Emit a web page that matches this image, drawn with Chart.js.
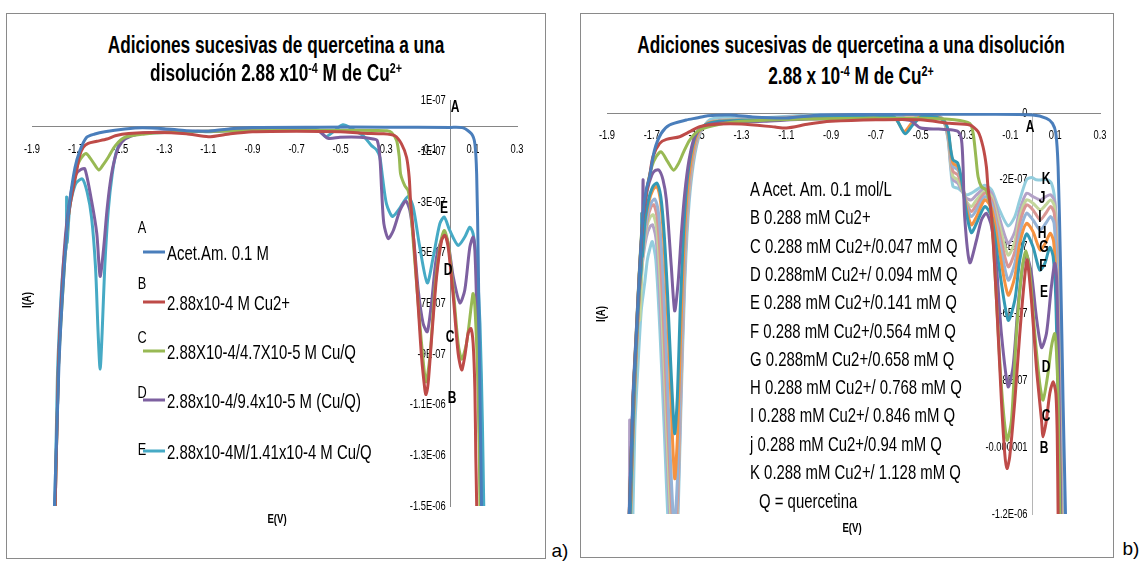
<!DOCTYPE html>
<html>
<head>
<meta charset="utf-8">
<script src="https://cdn.jsdelivr.net/npm/chart.js@4.4.0/dist/chart.umd.min.js"></script>
<style>
  body { margin: 0; background: #fff; width: 1146px; height: 562px; position: relative; overflow: hidden;
         font-family: 'Liberation Sans', Arial, sans-serif; color: #000; }
  .panel { position: absolute; border: 1px solid #8a8a8a; box-sizing: border-box; }
  canvas { position: absolute; }
  .c, .l { position: absolute; white-space: nowrap; line-height: 1; }
  .c { transform: translate(-50%, -50%) scaleX(var(--sx, 1)); }
  .l { transform-origin: left center; transform: translate(0, -50%) scaleX(var(--sx, 1)); }
  .title { font-weight: bold; font-size: 23px; --sx: 0.75; }
  .leg { font-size: 21px; --sx: 0.71; }
  .let { font-size: 17px; --sx: 0.75; }
  .tag { font-weight: bold; font-size: 16px; --sx: 0.75; }
  .axt { font-weight: bold; font-size: 12px; }
  .rot { transform: translate(-50%, -50%) rotate(-90deg) scaleX(0.8); }
  sup { font-size: 0.62em; vertical-align: 0.55em; line-height: 0; }
</style>
</head>
<body>
<div class="panel" style="left:6px;top:13px;width:540px;height:546px;"></div>
<div class="panel" style="left:580px;top:13px;width:534px;height:545px;"></div>
<canvas id="leftChart" width="528" height="440" style="left:7px;top:85px;"></canvas>
<canvas id="rightChart" width="528" height="440" style="left:585px;top:95px;"></canvas>
<div id="overlay"></div>
<script>
// axis ticks (I values in units of 1E-07 A)
const xTicks = [-1.9, -1.7, -1.5, -1.3, -1.1, -0.9, -0.7, -0.5, -0.3, -0.1, 0.1, 0.3];
const xLabels = ['-1.9', '-1.7', '-1.5', '-1.3', '-1.1', '-0.9', '-0.7', '-0.5', '-0.3', '-0.1', '0.1', '0.3'];
const leftYTicks = [1, -1, -3, -5, -7, -9, -11, -13, -15];
const leftYLabels = ['1E-07', '-1E-07', '-3E-07', '-5E-07', '-7E-07', '-9E-07', '-1.1E-06', '-1.3E-06', '-1.5E-06'];
const rightYTicks = [0, -2, -4, -6, -8, -10, -12];
const rightYLabels = ['0', '-2E-07', '-4E-07', '-6E-07', '-8E-07', '-0.000001', '-1.2E-06'];

// legend texts
const leftLetters = ['A', 'B', 'C', 'D', 'E'];
const leftNames = ['Acet.Am. 0.1 M', '2.88x10-4 M Cu2+', '2.88X10-4/4.7X10-5 M Cu/Q',
  '2.88x10-4/9.4x10-5 M (Cu/Q)', '2.88x10-4M/1.41x10-4 M Cu/Q'];
const rightNames = ['A Acet. Am. 0.1 mol/L', 'B 0.288 mM Cu2+', 'C 0.288 mM Cu2+/0.047 mM Q',
  'D 0.288mM Cu2+/ 0.094 mM Q', 'E 0.288 mM Cu2+/0.141 mM Q', 'F 0.288 mM Cu2+/0.564 mM Q',
  'G 0.288mM Cu2+/0.658 mM Q', 'H 0.288 mM Cu2+/ 0.768 mM Q', 'I 0.288 mM Cu2+/ 0.846 mM Q',
  'j 0.288 mM Cu2+/0.94 mM Q', 'K 0.288 mM Cu2+/ 1.128 mM Q'];

// ---- left panel curves: [E (V), I (1E-07 A)] ----
const leftA = [[-1.805,-17],[-1.778,-9.5],[-1.763,-6.87],[-1.743,-4.24],[-1.728,-2.93],[-1.705,-1.64],[-1.683,-0.97],
  [-1.652,-0.44],[-1.615,-0.31],[-1.57,-0.22],[-1.478,-0.11],[-1.4,-0.06],[-1.3,-0.1],[-1.2,-0.18],[-1.1,-0.2],[-1.0,-0.1],
  [-0.9,-0.05],[-0.6,-0.04],[-0.3,-0.04],[0.0,-0.05],[0.056,-0.07],[0.094,-0.31],[0.109,-0.7],[0.117,-1.89],[0.124,-5.17],
  [0.1315,-10.4],[0.139,-14.9],[0.145,-18]];
const leftB = [[-1.8,-17],[-1.78,-9.5],[-1.765,-6.9],[-1.745,-4.3],[-1.725,-3.0],[-1.7,-1.9],[-1.685,-1.2],[-1.668,-0.84],
  [-1.645,-0.68],[-1.606,-0.6],[-1.56,-0.51],[-1.522,-0.38],[-1.462,-0.29],[-1.342,-0.25],[-1.2,-0.3],[-1.1,-0.42],[-1.0,-0.3],
  [-0.9,-0.22],[-0.7,-0.2],[-0.5,-0.22],[-0.4,-0.28],[-0.307,-0.3],[-0.254,-0.38],[-0.224,-0.7],[-0.201,-1.23],[-0.189,-2.02],
  [-0.183,-2.94],[-0.174,-3.85],[-0.163,-5.17],[-0.148,-7.14],[-0.133,-9.11],[-0.118,-10.4],[-0.113,-10.6],[-0.103,-10.15],
  [-0.088,-8.45],[-0.065,-5.96],[-0.042,-4.51],[-0.027,-4.31],[-0.012,-4.78],[0.011,-6.74],[0.033,-8.97],[0.049,-9.63],
  [0.063,-9.1],[0.078,-8.19],[0.091,-7.99],[0.101,-8.58],[0.109,-10.4],[0.113,-13.0],[0.117,-14.9],[0.12,-18]];
const leftC = [[-1.8,-17],[-1.78,-9.6],[-1.76,-6.5],[-1.74,-4.0],[-1.72,-2.6],[-1.7,-1.7],[-1.68,-1.3],[-1.655,-1.08],
  [-1.625,-1.4],[-1.597,-1.73],[-1.575,-1.5],[-1.554,-1.23],[-1.522,-0.77],[-1.478,-0.44],[-1.388,-0.31],[-1.3,-0.25],
  [-1.1,-0.2],[-0.9,-0.18],[-0.7,-0.17],[-0.5,-0.16],[-0.35,-0.17],[-0.29,-0.18],[-0.269,-0.25],[-0.246,-0.57],[-0.234,-1.23],
  [-0.228,-1.89],[-0.209,-2.35],[-0.194,-2.54],[-0.183,-3.2],[-0.171,-4.51],[-0.153,-6.48],[-0.133,-8.58],[-0.113,-10.1],
  [-0.095,-9.1],[-0.073,-6.48],[-0.05,-4.78],[-0.03,-4.12],[-0.012,-4.64],[0.011,-6.48],[0.033,-8.58],[0.049,-9.21],
  [0.071,-8.58],[0.094,-7.0],[0.101,-6.61],[0.109,-7.14],[0.119,-9.11],[0.127,-11.7],[0.132,-14.9],[0.136,-18]];
const leftD = [[-1.8,-17],[-1.78,-9.5],[-1.765,-6.5],[-1.75,-4.5],[-1.735,-3.3],[-1.72,-2.5],[-1.7,-1.9],[-1.68,-1.72],
  [-1.66,-1.69],[-1.63,-2.94],[-1.606,-4.25],[-1.591,-5.93],[-1.576,-4.9],[-1.56,-3.33],[-1.546,-2.28],[-1.53,-1.49],
  [-1.508,-0.84],[-1.478,-0.51],[-1.418,-0.31],[-1.3,-0.22],[-1.1,-0.2],[-0.9,-0.17],[-0.7,-0.17],[-0.6,-0.2],[-0.557,-0.48],
  [-0.503,-0.44],[-0.413,-0.44],[-0.352,-0.51],[-0.334,-0.57],[-0.322,-1.23],[-0.314,-2.54],[-0.304,-3.85],[-0.284,-4.44],
  [-0.261,-4.12],[-0.231,-3.33],[-0.204,-2.96],[-0.186,-3.33],[-0.168,-4.51],[-0.148,-6.48],[-0.126,-7.79],[-0.107,-8.12],
  [-0.088,-7.0],[-0.065,-5.17],[-0.03,-4.25],[-0.012,-4.64],[0.011,-5.96],[0.041,-6.98],[0.063,-6.48],[0.086,-4.78],
  [0.101,-4.38],[0.109,-4.91],[0.119,-7.79],[0.128,-11.7],[0.135,-14.9],[0.14,-18]];
const leftE = [[-1.8,-17],[-1.785,-10],[-1.77,-7],[-1.755,-5.2],[-1.745,-4.8],[-1.743,-2.8],[-1.741,-4.6],[-1.73,-3.3],
  [-1.72,-2.8],[-1.7,-2.25],[-1.672,-2.08],[-1.65,-2.6],[-1.63,-3.59],[-1.612,-5.56],[-1.6,-8.19],[-1.591,-9.6],[-1.582,-8.19],
  [-1.57,-5.56],[-1.554,-3.33],[-1.536,-1.89],[-1.516,-0.97],[-1.486,-0.51],[-1.433,-0.31],[-1.3,-0.25],[-1.15,-0.2],
  [-1.1,-0.22],[-1.0,-0.15],[-0.9,-0.1],[-0.7,-0.1],[-0.6,-0.15],[-0.567,-0.42],[-0.53,-0.2],[-0.49,0.05],[-0.45,-0.1],
  [-0.398,-0.38],[-0.36,-0.77],[-0.337,-0.94],[-0.322,-1.23],[-0.31,-2.02],[-0.292,-3.07],[-0.265,-3.57],[-0.239,-3.33],
  [-0.194,-2.78],[-0.171,-3.2],[-0.141,-4.78],[-0.107,-6.19],[-0.08,-5.17],[-0.05,-3.85],[-0.03,-3.59],[-0.005,-4.12],
  [0.033,-4.71],[0.063,-4.38],[0.086,-3.99],[0.101,-4.25],[0.117,-5.43],[0.132,-7.79],[0.143,-11.7],[0.149,-14.9],[0.155,-18]];

// ---- right panel curves ----
const rightA = [[-1.81,-14],[-1.784,-8.6],[-1.769,-6.6],[-1.754,-4.6],[-1.74,-3.1],[-1.725,-2.3],[-1.71,-1.91],[-1.688,-1.11],
  [-1.658,-0.61],[-1.621,-0.36],[-1.546,-0.21],[-1.5,-0.15],[-1.45,-0.08],[-1.35,-0.06],[-1.25,-0.12],[-1.1,-0.15],
  [-0.95,-0.06],[-0.6,-0.04],[-0.2,-0.04],[0.0,-0.06],[0.061,-0.16],[0.088,-0.31],[0.103,-0.61],[0.113,-1.61],[0.124,-4.6],
  [0.135,-8.6],[0.146,-12],[0.152,-14]];
const rightB = [[-1.81,-14],[-1.784,-8.6],[-1.769,-6.6],[-1.754,-4.6],[-1.74,-3.2],[-1.725,-2.4],[-1.71,-1.9],[-1.695,-1.31],
  [-1.665,-0.91],[-1.635,-0.79],[-1.576,-0.71],[-1.531,-0.56],[-1.487,-0.41],[-1.397,-0.33],[-1.3,-0.33],[-1.15,-0.42],
  [-1.1,-0.45],[-1.0,-0.33],[-0.9,-0.25],[-0.7,-0.2],[-0.5,-0.2],[-0.371,-0.31],[-0.281,-0.36],[-0.244,-0.56],[-0.222,-1.01],
  [-0.207,-1.61],[-0.2,-2.21],[-0.184,-3.1],[-0.162,-5.6],[-0.14,-8.6],[-0.125,-10.19],[-0.115,-10.64],[-0.103,-10.29],
  [-0.08,-8.6],[-0.058,-6.6],[-0.036,-4.9],[-0.025,-4.4],[-0.006,-5.6],[0.016,-7.6],[0.039,-9.19],[0.046,-9.69],[0.061,-9.19],
  [0.076,-8.39],[0.091,-8.04],[0.103,-8.39],[0.109,-9.59],[0.113,-12],[0.116,-14]];
const rightC = [[-1.81,-14],[-1.784,-8.6],[-1.769,-6.5],[-1.754,-4.5],[-1.74,-3.1],[-1.72,-2.2],[-1.7,-1.6],[-1.68,-1.3],
  [-1.658,-1.16],[-1.63,-1.45],[-1.603,-1.71],[-1.58,-1.5],[-1.561,-1.21],[-1.531,-0.81],[-1.487,-0.51],[-1.412,-0.36],
  [-1.3,-0.25],[-1.0,-0.18],[-0.7,-0.16],[-0.5,-0.16],[-0.35,-0.2],[-0.281,-0.31],[-0.266,-0.61],[-0.254,-1.31],[-0.244,-1.91],
  [-0.229,-2.21],[-0.207,-2.31],[-0.184,-3.1],[-0.162,-5.6],[-0.14,-8.19],[-0.115,-9.79],[-0.095,-9.19],[-0.073,-6.6],
  [-0.05,-4.8],[-0.031,-4.12],[-0.013,-4.8],[0.009,-6.6],[0.031,-8.09],[0.046,-8.59],[0.068,-7.79],[0.083,-7.0],[0.098,-6.6],
  [0.106,-7.19],[0.113,-8.59],[0.121,-12],[0.125,-14]];
const rightD = [[-1.81,-14],[-1.785,-8.6],[-1.77,-6.6],[-1.755,-4.7],[-1.742,-3.3],[-1.739,-2.0],[-1.736,-3.0],[-1.72,-2.3],
  [-1.7,-1.85],[-1.685,-1.72],[-1.668,-1.71],[-1.65,-2.0],[-1.635,-2.6],[-1.613,-4.6],[-1.598,-5.92],[-1.583,-5.1],
  [-1.568,-3.6],[-1.553,-2.4],[-1.534,-1.41],[-1.509,-0.71],[-1.472,-0.41],[-1.4,-0.3],[-1.2,-0.25],[-1.0,-0.18],[-0.7,-0.18],
  [-0.55,-0.22],[-0.5,-0.45],[-0.42,-0.48],[-0.371,-0.5],[-0.333,-0.56],[-0.318,-0.81],[-0.311,-1.61],[-0.304,-3.1],
  [-0.281,-4.48],[-0.251,-3.8],[-0.229,-3.2],[-0.207,-3.0],[-0.184,-3.4],[-0.162,-4.6],[-0.14,-6.6],[-0.11,-8.19],
  [-0.088,-7.6],[-0.066,-5.8],[-0.043,-4.5],[-0.028,-4.25],[-0.006,-4.8],[0.016,-6.1],[0.039,-7.02],[0.061,-6.6],[0.083,-5.2],
  [0.098,-4.5],[0.106,-4.9],[0.115,-7.6],[0.124,-12],[0.128,-14]];
const rightE = [[-1.805,-14],[-1.785,-9.5],[-1.77,-7.0],[-1.755,-5.2],[-1.747,-4.6],[-1.745,-3.0],[-1.743,-4.3],[-1.73,-3.2],
  [-1.715,-2.6],[-1.695,-2.2],[-1.677,-2.1],[-1.66,-2.5],[-1.645,-3.6],[-1.63,-5.4],[-1.615,-7.6],[-1.598,-9.59],[-1.586,-8.5],
  [-1.574,-6.0],[-1.56,-3.8],[-1.545,-2.2],[-1.525,-1.2],[-1.5,-0.6],[-1.46,-0.35],[-1.4,-0.25],[-1.3,-0.22],[-1.15,-0.2],
  [-1.0,-0.12],[-0.8,-0.08],[-0.62,-0.12],[-0.57,-0.62],[-0.535,-0.35],[-0.49,-0.08],[-0.44,-0.12],[-0.4,-0.21],[-0.378,-0.5],
  [-0.367,-1.05],[-0.356,-1.4],[-0.335,-1.5],[-0.315,-2.1],[-0.296,-3.0],[-0.274,-3.58],[-0.251,-3.3],[-0.214,-2.8],
  [-0.184,-3.1],[-0.155,-4.4],[-0.11,-6.2],[-0.08,-5.6],[-0.058,-4.4],[-0.028,-3.62],[0.001,-4.0],[0.031,-4.7],[0.054,-4.5],
  [0.076,-4.02],[0.091,-4.3],[0.103,-5.6],[0.113,-8.6],[0.124,-12],[0.128,-14]];
const rightF = [[-1.803,-14],[-1.783,-9.5],[-1.768,-7.0],[-1.752,-5.0],[-1.735,-3.5],[-1.715,-2.7],[-1.695,-2.3],[-1.677,-2.2],
  [-1.66,-2.7],[-1.645,-4.0],[-1.63,-6.0],[-1.615,-8.5],[-1.598,-10.94],[-1.585,-9.6],[-1.572,-6.8],[-1.558,-4.2],[-1.543,-2.5],
  [-1.522,-1.3],[-1.495,-0.6],[-1.45,-0.3],[-1.4,-0.25],[-1.3,-0.22],[-1.15,-0.2],[-1.0,-0.1],[-0.8,-0.07],[-0.62,-0.12],
  [-0.575,-0.55],[-0.54,-0.3],[-0.5,-0.1],[-0.45,-0.1],[-0.4,-0.2],[-0.378,-0.55],[-0.367,-1.1],[-0.356,-1.5],[-0.335,-1.6],
  [-0.315,-2.1],[-0.296,-2.85],[-0.274,-3.35],[-0.251,-3.1],[-0.214,-2.6],[-0.184,-2.85],[-0.155,-3.9],[-0.11,-5.45],
  [-0.08,-4.9],[-0.058,-3.9],[-0.028,-3.3],[0.001,-3.55],[0.033,-4.1],[0.056,-3.9],[0.078,-3.6],[0.093,-3.85],[0.105,-5.2],
  [0.115,-8.4],[0.126,-12],[0.13,-14]];
const rightG = [[-1.807,-14],[-1.787,-9.6],[-1.771,-7.2],[-1.755,-5.3],[-1.737,-3.9],[-1.718,-3.0],[-1.7,-2.65],[-1.686,-2.58],
  [-1.67,-3.0],[-1.652,-4.6],[-1.635,-7.2],[-1.618,-10.2],[-1.6,-12.4],[-1.586,-11.0],[-1.572,-7.8],[-1.557,-4.6],[-1.541,-2.6],
  [-1.52,-1.3],[-1.49,-0.6],[-1.44,-0.28],[-1.3,-0.2],[-1.15,-0.18],[-1.0,-0.1],[-0.8,-0.06],[-0.6,-0.08],[-0.55,-0.2],
  [-0.5,-0.08],[-0.44,-0.1],[-0.4,-0.2],[-0.378,-0.6],[-0.367,-1.2],[-0.356,-1.6],[-0.335,-1.7],[-0.315,-2.1],[-0.296,-2.75],
  [-0.274,-3.1],[-0.251,-2.9],[-0.214,-2.5],[-0.184,-2.7],[-0.155,-3.6],[-0.11,-5.0],[-0.08,-4.5],[-0.058,-3.6],[-0.028,-3.0],
  [0.001,-3.2],[0.033,-3.5],[0.058,-3.3],[0.08,-3.1],[0.095,-3.3],[0.107,-4.8],[0.117,-8.2],[0.128,-12],[0.132,-14]];
const rightH = [[-1.808,-14],[-1.789,-9.8],[-1.773,-7.4],[-1.757,-5.5],[-1.739,-4.1],[-1.72,-3.2],[-1.703,-2.8],[-1.69,-2.75],
  [-1.673,-3.3],[-1.655,-5.2],[-1.637,-8.0],[-1.618,-11.0],[-1.599,-13.0],[-1.585,-11.4],[-1.571,-8.0],[-1.556,-4.8],
  [-1.54,-2.7],[-1.518,-1.35],[-1.488,-0.6],[-1.44,-0.28],[-1.3,-0.2],[-1.15,-0.17],[-1.0,-0.1],[-0.8,-0.06],[-0.6,-0.06],
  [-0.5,-0.06],[-0.44,-0.08],[-0.4,-0.2],[-0.378,-0.65],[-0.367,-1.3],[-0.356,-1.75],[-0.335,-1.85],[-0.315,-2.2],
  [-0.296,-2.7],[-0.274,-2.95],[-0.251,-2.75],[-0.214,-2.4],[-0.184,-2.6],[-0.155,-3.4],[-0.11,-4.6],[-0.08,-4.15],
  [-0.058,-3.3],[-0.028,-2.75],[0.001,-2.9],[0.033,-3.2],[0.058,-3.0],[0.08,-2.8],[0.096,-3.0],[0.108,-4.5],[0.118,-8.0],
  [0.129,-12],[0.133,-14]];
const rightI = [[-1.809,-14],[-1.79,-10.0],[-1.775,-7.6],[-1.758,-5.7],[-1.756,-4.8],[-1.754,-6.2],[-1.74,-4.3],[-1.722,-3.4],
  [-1.706,-3.1],[-1.693,-3.05],[-1.676,-3.6],[-1.658,-5.6],[-1.64,-8.4],[-1.62,-11.5],[-1.6,-13.5],[-1.586,-11.8],[-1.571,-8.2],
  [-1.556,-5.0],[-1.54,-2.8],[-1.517,-1.4],[-1.487,-0.6],[-1.44,-0.27],[-1.3,-0.19],[-1.15,-0.16],[-1.0,-0.09],[-0.8,-0.05],
  [-0.6,-0.05],[-0.5,-0.05],[-0.44,-0.07],[-0.4,-0.2],[-0.378,-0.7],[-0.367,-1.4],[-0.356,-1.9],[-0.335,-2.0],[-0.315,-2.3],
  [-0.296,-2.65],[-0.274,-2.8],[-0.251,-2.6],[-0.214,-2.35],[-0.184,-2.5],[-0.155,-3.2],[-0.11,-4.25],[-0.08,-3.85],
  [-0.058,-3.1],[-0.028,-2.6],[0.001,-2.7],[0.033,-2.9],[0.058,-2.75],[0.08,-2.6],[0.097,-2.8],[0.109,-4.3],[0.119,-7.8],
  [0.13,-12],[0.134,-14]];
const rightJ = [[-1.8,-14],[-1.799,-9.2],[-1.79,-9.9],[-1.776,-7.8],[-1.76,-5.9],[-1.742,-4.5],[-1.724,-3.7],[-1.708,-3.4],
  [-1.696,-3.35],[-1.679,-3.9],[-1.661,-6.0],[-1.642,-8.8],[-1.621,-12.0],[-1.6,-14.0],[-1.586,-12.2],[-1.57,-8.4],
  [-1.555,-5.1],[-1.539,-2.9],[-1.516,-1.45],[-1.486,-0.6],[-1.44,-0.26],[-1.3,-0.18],[-1.15,-0.15],[-1.0,-0.08],[-0.8,-0.04],
  [-0.6,-0.04],[-0.5,-0.04],[-0.44,-0.06],[-0.4,-0.2],[-0.378,-0.75],[-0.367,-1.5],[-0.356,-2.0],[-0.335,-2.1],[-0.315,-2.35],
  [-0.296,-2.55],[-0.274,-2.6],[-0.251,-2.45],[-0.214,-2.25],[-0.184,-2.4],[-0.155,-3.0],[-0.11,-3.9],[-0.08,-3.55],
  [-0.058,-2.9],[-0.028,-2.4],[0.001,-2.5],[0.033,-2.6],[0.058,-2.5],[0.08,-2.45],[0.098,-2.65],[0.11,-4.1],[0.12,-7.6],
  [0.131,-12],[0.135,-14]];
const rightK = [[-1.79,-14],[-1.776,-9.5],[-1.762,-7.6],[-1.747,-5.9],[-1.732,-5.1],[-1.72,-4.4],[-1.71,-4.1],[-1.698,-3.85],
  [-1.682,-4.4],[-1.664,-6.5],[-1.645,-9.4],[-1.624,-12.8],[-1.602,-15.0],[-1.587,-13.0],[-1.57,-8.8],[-1.554,-5.3],
  [-1.537,-3.0],[-1.514,-1.5],[-1.484,-0.6],[-1.44,-0.2],[-1.35,-0.12],[-1.2,-0.14],[-1.0,-0.06],[-0.8,-0.03],[-0.6,-0.03],
  [-0.5,-0.02],[-0.46,0],[-0.43,-0.05],[-0.4,-0.2],[-0.378,-0.8],[-0.367,-1.6],[-0.356,-2.2],[-0.335,-2.25],[-0.315,-2.35],
  [-0.296,-2.45],[-0.274,-2.4],[-0.251,-2.3],[-0.214,-2.16],[-0.184,-2.3],[-0.155,-2.8],[-0.11,-3.38],[-0.08,-3.1],
  [-0.058,-2.6],[-0.028,-2.0],[-0.005,-1.93],[0.016,-2.0],[0.04,-2.0],[0.061,-1.99],[0.083,-2.1],[0.098,-2.6],[0.113,-4.6],
  [0.124,-8.6],[0.133,-12],[0.137,-14]];

const leftColors = ['#4a7ebb', '#be4b48', '#98b954', '#7d60a0', '#46aac5'];
const rightColors = ['#4a7ebb', '#be4b48', '#98b954', '#7d60a0', '#3399b4', '#f59240',
  '#95b3d7', '#d99694', '#c3d69b', '#b3a2c7', '#93cddd'];

// the reference uses a narrow face; squeeze canvas text horizontally around its anchor
function narrowText(ctx, sx) {
  const fill = ctx.fillText;
  ctx.fillText = function (text, x, y, maxWidth) {
    this.save();
    this.translate(x, y);
    this.scale(sx, 1);
    fill.call(this, text, 0, 0);
    this.restore();
  };
}

function makeChart(id, series, colors, yTicks, yLabels, yMin, yMax, pad, yLineColor) {
  const ctx = document.getElementById(id).getContext('2d');
  narrowText(ctx, 0.72);
  return new Chart(ctx, {
    type: 'scatter',
    data: {
      datasets: series.map((s, i) => ({
        data: s.map(p => ({ x: p[0], y: p[1] })),
        showLine: true,
        borderColor: colors[i],
        borderWidth: 3,
        pointRadius: 0,
        tension: 0.25,
        fill: false
      }))
    },
    options: {
      responsive: false,
      animation: false,
      devicePixelRatio: 1,
      layout: { padding: pad },
      plugins: { legend: { display: false }, tooltip: { enabled: false } },
      scales: {
        x: {
          type: 'linear', min: -1.9, max: 0.3, position: { y: 0 },
          afterBuildTicks: axis => { axis.ticks = xTicks.map(v => ({ value: v })); },
          grid: { drawOnChartArea: false, drawTicks: true, tickLength: 13, tickColor: 'rgba(0,0,0,0)' },
          border: { color: '#868686', width: 1 },
          ticks: { autoSkip: false, maxRotation: 0, padding: 2, color: '#000',
                   font: { family: "'Liberation Sans', Arial, sans-serif", size: 13 },
                   callback: (v, i) => xLabels[i] }
        },
        y: {
          type: 'linear', min: yMin, max: yMax, position: { x: 0 },
          afterBuildTicks: axis => { axis.ticks = yTicks.map(v => ({ value: v })); },
          grid: { drawOnChartArea: false, drawTicks: false },
          border: { color: yLineColor, width: 1 },
          ticks: { autoSkip: false, padding: 8, color: '#000',
                   font: { family: "'Liberation Sans', Arial, sans-serif", size: 13 },
                   callback: (v, i) => yLabels[i] + '\u00a0\u00a0' }
        }
      }
    }
  });
}

makeChart('leftChart', [leftA, leftB, leftC, leftD, leftE], leftColors, leftYTicks, leftYLabels, -15, 1,
  { left: 25, right: 18, top: 15, bottom: 19 }, '#8a8a8a');
makeChart('rightChart', [rightA, rightB, rightC, rightD, rightE, rightF, rightG, rightH, rightI, rightJ, rightK],
  rightColors, rightYTicks, rightYLabels, -12, 0, { left: 22, right: 13, top: 18, bottom: 21 }, '#b5b5b5');

// text overlay: titles, legends, curve tags
const overlay = document.getElementById('overlay');
function put(cls, x, y, html, extra) {
  const d = document.createElement('div');
  d.className = cls;
  d.style.left = x + 'px';
  d.style.top = y + 'px';
  if (extra) d.style.cssText += extra;
  d.innerHTML = html;
  overlay.appendChild(d);
  return d;
}

put('c title', 276, 45, 'Adiciones sucesivas de quercetina a una');
put('c title', 276, 73, 'disolución 2.88 x10<sup>-4</sup> M de Cu<sup>2+</sup>');
put('c title', 851, 45, 'Adiciones sucesivas de quercetina a una disolución');
put('c title', 851, 76, '2.88 x 10<sup>-4</sup> M de Cu<sup>2+</sup>');

const leftLetterY = [227, 283, 337, 392, 449];
const leftLineY = [252, 302, 351, 400, 451];
leftNames.forEach((name, i) => {
  put('c let', 142, leftLetterY[i], leftLetters[i]);
  put('l', 143, leftLineY[i], '', 'width:22px;height:3px;background:' + leftColors[i] + ';');
  put('l leg', 167, leftLineY[i], name);
});

rightNames.forEach((name, i) => put('l leg', 750, 188 + i * 28.3, name));
put('l leg', 759, 500, 'Q = quercetina');

// curve tags
[['A', 455, 107], ['E', 444, 208], ['D', 448, 270], ['C', 450, 337], ['B', 452, 398]]
  .forEach(t => put('c tag', t[1], t[2], t[0]));
[['A', 1030, 127], ['K', 1046, 179], ['J', 1042, 198], ['I', 1040, 217], ['H', 1042, 233], ['G', 1044, 247],
 ['F', 1043, 266], ['E', 1044, 292], ['D', 1046, 367], ['C', 1046, 416], ['B', 1044, 448]]
  .forEach(t => put('c tag', t[1], t[2], t[0]));

// axis titles
put('c axt rot', 27, 300, 'I(A)');
put('c axt', 277, 519, 'E(V)', '--sx:0.8;');
put('c axt rot', 601, 314, 'I(A)');
put('c axt', 852, 528, 'E(V)', '--sx:0.8;');

put('c', 560, 550, 'a)', 'font-size:19px;');
put('c', 1131, 548, 'b)', 'font-size:19px;');
</script>
</body>
</html>
